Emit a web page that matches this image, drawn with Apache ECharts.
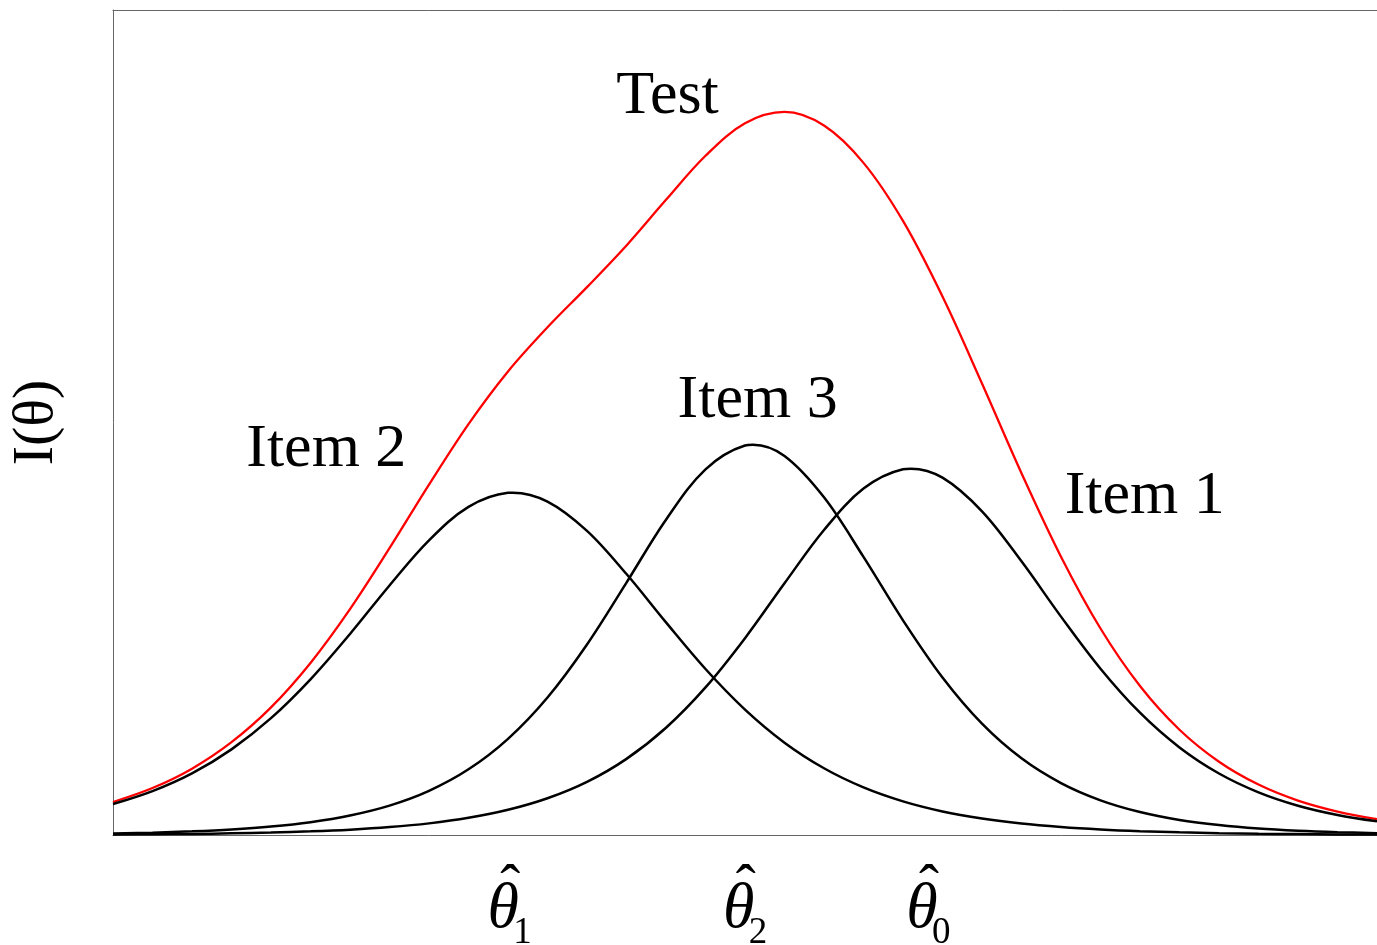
<!DOCTYPE html>
<html>
<head>
<meta charset="utf-8">
<title>Item and test information functions</title>
<script src="https://cdn.jsdelivr.net/npm/echarts@6/dist/echarts.min.js"></script>
<style>
  html, body { margin: 0; padding: 0; background: #fff; }
  #chart { width: 1377px; height: 945px; }
</style>
</head>
<body>
<div id="chart"></div>
<script>
// Ability scale (theta) sample points
const theta = [-4, -3.75, -3.5, -3.25, -3, -2.75, -2.5, -2.25, -2, -1.75, -1.5, -1.25, -1, -0.75, -0.5, -0.25,
               0, 0.25, 0.5, 0.75, 1, 1.25, 1.5, 1.75, 2, 2.25, 2.5, 2.75, 3, 3.25, 3.5, 3.75, 4];

// Item information I(theta)
const item1 = [0.006, 0.009, 0.013, 0.020, 0.029, 0.044, 0.065, 0.096, 0.141, 0.208, 0.305, 0.445, 0.644, 0.923, 1.300, 1.789,
               2.386, 3.051, 3.697, 4.199, 4.433, 4.331, 3.923, 3.317, 2.647, 2.016, 1.482, 1.061, 0.745, 0.517, 0.355, 0.243, 0.165];
const item2 = [0.375, 0.532, 0.747, 1.038, 1.416, 1.887, 2.437, 3.025, 3.571, 3.977, 4.148, 4.042, 3.687, 3.163, 2.577, 2.012,
               1.520, 1.119, 0.809, 0.577, 0.408, 0.286, 0.200, 0.139, 0.097, 0.067, 0.046, 0.032, 0.022, 0.015, 0.011, 0.007, 0.005];
const item3 = [0.019, 0.028, 0.044, 0.067, 0.102, 0.155, 0.236, 0.356, 0.535, 0.796, 1.166, 1.667, 2.310, 3.060, 3.822, 4.432,
               4.721, 4.594, 4.093, 3.371, 2.602, 1.909, 1.349, 0.929, 0.629, 0.420, 0.278, 0.183, 0.121, 0.079, 0.052, 0.034, 0.022];

// Maximum of each item curve: location and height
const item1Peak = [1.05, 4.44];
const item2Peak = [-1.47, 4.15];
const item3Peak = [0.05, 4.73];

// Test information (sum of the three items)
const test = [0.400, 0.569, 0.804, 1.125, 1.547, 2.086, 2.738, 3.477, 4.247, 4.981, 5.619, 6.154, 6.641, 7.146, 7.699, 8.233,
              8.627, 8.764, 8.599, 8.147, 7.443, 6.526, 5.472, 4.385, 3.373, 2.503, 1.806, 1.276, 0.888, 0.611, 0.417, 0.284, 0.192];

// Curve annotations: text and anchor in data units
const curveNames = ['Test', 'Item 3', 'Item 2', 'Item 1'];
const curveNameTheta = [-0.49, 0.08, -2.65, 2.53];
const curveNameValue = [8.95, 5.26, 4.67, 4.10];

// Estimated abilities marked on the theta axis
const estimateTicks = [-1.53, -0.04, 1.12];
const estimateSubscripts = ['1', '2', '0'];

const SERIF = "'Liberation Serif', 'Times New Roman', Times, serif";

// [theta, value] pairs, with an optional extra point (the curve maximum) merged in order
function pairs(ys, extra) {
  const pts = theta.map((t, i) => [t, ys[i]]);
  if (extra) pts.push(extra.slice());
  return pts.sort((a, b) => a[0] - b[0]);
}

const chart = echarts.init(document.getElementById('chart'), null, { renderer: 'canvas' });

const frame = { show: true, onZero: false, lineStyle: { color: '#666', width: 1 } };
const noLine = { show: false, onZero: false };
const blackLine = { color: '#000', width: 2.5 };

// Bottom label rows: estimate symbol, its hat, its subscript
function labelRow(extra) {
  return Object.assign({
    type: 'value', min: -4, max: 4, position: 'bottom',
    axisLine: noLine, axisTick: { show: false }, splitLine: { show: false }
  }, extra);
}

chart.setOption({
  animation: false,
  backgroundColor: '#fff',
  grid: { left: 113, right: 0, top: 10, bottom: 110, containLabel: false, outerBoundsMode: 'none' },
  xAxis: [
    {
      type: 'value', min: -4, max: 4, position: 'bottom',
      axisLine: frame, axisTick: { show: false }, splitLine: { show: false },
      axisLabel: { show: false }
    },
    {
      type: 'value', min: -4, max: 4, position: 'top',
      axisLine: frame, axisTick: { show: false }, axisLabel: { show: false }, splitLine: { show: false }
    },
    labelRow({
      axisLabel: {
        show: true, customValues: estimateTicks, margin: 43,
        formatter: () => '\u03B8',
        fontFamily: SERIF, fontStyle: 'italic', fontSize: 64, lineHeight: 64, color: '#000'
      }
    }),
    labelRow({
      axisLabel: {
        show: true, customValues: estimateTicks, margin: 24,
        formatter: () => '\u02C6',
        fontFamily: SERIF, fontSize: 60, lineHeight: 60, color: '#000',
        padding: [0, 0, 0, 14]
      }
    }),
    labelRow({
      axisLabel: {
        show: true, customValues: estimateTicks, margin: 80,
        formatter: (v) => estimateSubscripts[estimateTicks.indexOf(v)] || '',
        fontFamily: SERIF, fontSize: 37, lineHeight: 37, color: '#000',
        align: 'left', padding: [0, 0, 0, 10]
      }
    })
  ],
  yAxis: {
    type: 'value', min: 0, max: 10,
    axisLine: frame,
    axisTick: { show: false },
    axisLabel: { show: false },
    splitLine: { show: false },
    name: 'I(\u03B8)',
    nameLocation: 'middle',
    nameRotate: 90,
    nameGap: 47,
    nameTextStyle: { fontFamily: SERIF, fontSize: 58, color: '#000' }
  },
  series: [
    { name: 'Item 2', type: 'line', data: pairs(item2, item2Peak), smooth: 0.35, showSymbol: false, lineStyle: blackLine, z: 3 },
    { name: 'Item 3', type: 'line', data: pairs(item3, item3Peak), smooth: 0.35, showSymbol: false, lineStyle: blackLine, z: 3 },
    { name: 'Item 1', type: 'line', data: pairs(item1, item1Peak), smooth: 0.35, showSymbol: false, lineStyle: blackLine, z: 3 },
    { name: 'Test', type: 'line', data: pairs(test), smooth: 0.35, showSymbol: false,
      lineStyle: { color: '#ff0000', width: 2.3 }, z: 2 },
    {
      name: 'labels', type: 'scatter', symbolSize: 0, silent: true, z: 5,
      itemStyle: { opacity: 1 },
      data: curveNames.map((n, i) => ({ value: [curveNameTheta[i], curveNameValue[i]], name: n })),
      label: {
        show: true, position: 'inside', formatter: '{b}',
        fontFamily: SERIF, fontSize: 62, color: '#000', opacity: 1, textBorderWidth: 0,
        align: 'center', verticalAlign: 'middle'
      }
    }
  ]
});
</script>
</body>
</html>
